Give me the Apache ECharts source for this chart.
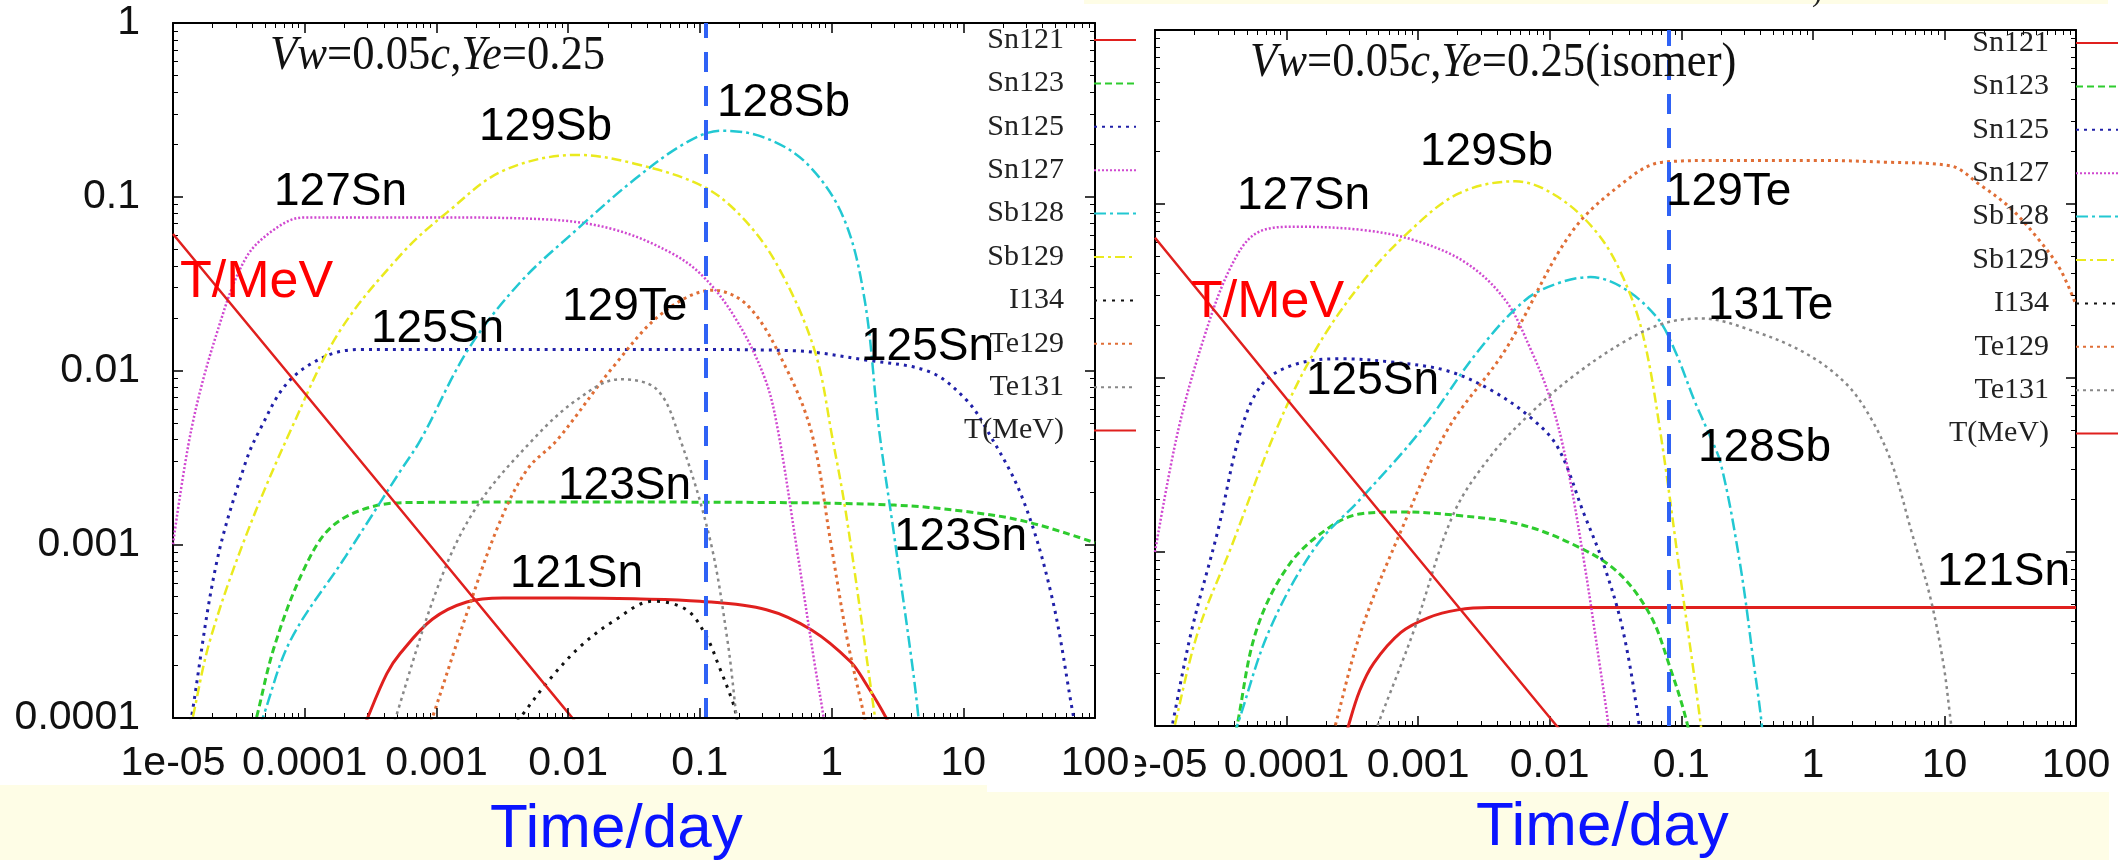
<!DOCTYPE html>
<html><head><meta charset="utf-8">
<script src="https://cdn.jsdelivr.net/npm/echarts@6.0.0/dist/echarts.min.js"></script>
<style>html,body{margin:0;padding:0;background:#fff;}#c{width:2125px;height:860px;}</style>
</head><body><div id="c"></div>
<script>
// ---- tick labels & names ----
const xTickLabels = ['1e-05','0.0001','0.001','0.01','0.1','1','10','100'];
const yTickLabels = ['0.0001','0.001','0.01','0.1','1'];
const seriesNames = ['Sn121','Sn123','Sn125','Sn127','Sb128','Sb129','I134','Te129','Te131','T(MeV)'];

// ---- left panel: Vw=0.05c, Ye=0.25   [time/day, abundance] ----
const leftSn121 = [[2.1e-4,5e-5],[3.0e-4,1e-4],[4.2e-4,1.8e-4],[5.3e-4,2.35e-4],[9.3e-4,3.7e-4],[1.7e-3,4.65e-4],[3.2e-3,4.9e-4],[1e-2,4.9e-4],[3.2e-2,4.85e-4],[0.1,4.7e-4],[0.32,4.2e-4],[0.71,3.2e-4],[1.4,2.1e-4],[1.8,1.6e-4],[2.6,1.0e-4],[3.2,7e-5]];
const leftSn123 = [[3.4e-5,5e-5],[4.3e-5,1e-4],[5.9e-5,2.6e-4],[9.8e-5,7.1e-4],[1.6e-4,1.26e-3],[3.4e-4,1.66e-3],[7e-4,1.74e-3],[1e-2,1.75e-3],[0.3,1.74e-3],[3,1.68e-3],[10,1.55e-3],[30,1.35e-3],[100,1.02e-3]];
const leftSn125 = [[1.2e-5,5e-5],[1.38e-5,1e-4],[2.14e-5,7.8e-4],[3.55e-5,2.95e-3],[4.57e-5,4.57e-3],[7.4e-5,8.5e-3],[1.41e-4,1.2e-2],[2.6e-4,1.32e-2],[1e-3,1.32e-2],[1e-2,1.32e-2],[0.1,1.32e-2],[0.51,1.3e-2],[1.8,1.15e-2],[5.6,9.8e-3],[10.5,6.8e-3],[15,4.6e-3],[28,1.86e-3],[47,5.0e-4],[69,1e-4],[88,4e-5]];
const leftSn127 = [[1e-5,1e-3],[1.38e-5,4.6e-3],[2.14e-5,1.62e-2],[3.55e-5,4.4e-2],[5.9e-5,6.5e-2],[9.8e-5,7.6e-2],[3e-4,7.6e-2],[1e-3,7.6e-2],[7e-3,7.4e-2],[2.2e-2,6.5e-2],[5.9e-2,4.8e-2],[0.105,3.5e-2],[0.186,2.0e-2],[0.31,9.1e-3],[0.39,4.6e-3],[0.55,9e-4],[0.74,2.1e-4],[0.87,1e-4],[1.0,4e-5]];
const leftSb128 = [[3.5e-5,5e-5],[4.8e-5,1e-4],[7.8e-5,2.8e-4],[2e-4,8.3e-4],[5.2e-4,2.57e-3],[7.6e-4,4e-3],[1.74e-3,1.32e-2],[4.3e-3,3.2e-2],[1.17e-2,6.5e-2],[3.2e-2,0.126],[7.8e-2,0.204],[0.145,0.24],[0.31,0.219],[0.65,0.155],[1.23,7.6e-2],[1.78,2.57e-2],[2.29,4.6e-3],[2.95,1.2e-3],[4.07,2.1e-4],[4.57,1e-4],[5.0,4.5e-5]];
const leftSb129 = [[1.12e-5,4.5e-5],[1.41e-5,1e-4],[1.91e-5,2.8e-4],[3.55e-5,1.1e-3],[7.9e-5,4.6e-3],[1.82e-4,1.66e-2],[5.6e-4,4.8e-2],[1.2e-3,8.1e-2],[3.2e-3,0.141],[1.17e-2,0.174],[3.2e-2,0.155],[0.105,0.115],[0.21,7.6e-2],[0.39,4.0e-2],[0.74,1.32e-2],[1.02,4.0e-3],[1.31,1.38e-3],[2.14,1e-4],[2.5,4.5e-5]];
const leftI134  = [[2.5e-3,6e-5],[4.3e-3,1e-4],[7.2e-3,1.66e-4],[1.23e-2,2.57e-4],[2.2e-2,3.6e-4],[4.4e-2,4.7e-4],[7.9e-2,4.2e-4],[0.112,2.95e-4],[0.141,1.95e-4],[0.178,1.23e-4],[0.19,1e-4],[0.21,5e-5]];
const leftTe129 = [[7.1e-4,5.6e-5],[9.3e-4,1e-4],[1.7e-3,4.0e-4],[3.0e-3,1.32e-3],[4.9e-3,2.7e-3],[8.3e-3,4.0e-3],[2.2e-2,1.05e-2],[5.2e-2,2.14e-2],[0.126,2.9e-2],[0.234,2.34e-2],[0.447,1.05e-2],[0.71,4.3e-3],[0.98,1.05e-3],[1.32,2.8e-4],[1.78,1e-4],[2.0,6.3e-5]];
const leftTe131 = [[4e-4,5.6e-5],[4.9e-4,1e-4],[1.07e-3,6.2e-4],[2.04e-3,1.66e-3],[5.4e-3,4.0e-3],[1.17e-2,6.8e-3],[2.45e-2,8.9e-3],[4.7e-2,7.8e-3],[7.1e-2,4.0e-3],[0.12,1.05e-3],[0.162,2.8e-4],[0.19,1e-4],[0.204,6.3e-5]];
const leftT     = [[1e-5,6.1e-2],[1e-4,7.4e-3],[1e-3,8.9e-4],[1e-2,1.07e-4],[0.1,1.3e-5]];
const leftMarkerTime = 0.106;

// ---- right panel: Vw=0.05c, Ye=0.25 (isomer) ----
const rightSn121 = [[2.3e-4,5e-5],[2.95e-4,1e-4],[3.6e-4,1.6e-4],[4.6e-4,2.3e-4],[7.4e-4,3.45e-4],[1.2e-3,4.2e-4],[2.0e-3,4.65e-4],[3.5e-3,4.8e-4],[1,4.8e-4],[100,4.8e-4]];
const rightSn123 = [[3.4e-5,4.5e-5],[4.2e-5,1e-4],[5.9e-5,3.55e-4],[1.05e-4,8.5e-4],[2.1e-4,1.38e-3],[3.7e-4,1.66e-3],[7.4e-4,1.7e-3],[2.04e-3,1.62e-3],[5.75e-3,1.45e-3],[1.45e-2,1.12e-3],[3.2e-2,7.8e-4],[5.75e-2,4.4e-4],[8.1e-2,2.24e-4],[0.112,1e-4],[0.13,5e-5]];
const rightSn125 = [[1.1e-5,4.5e-5],[1.35e-5,1e-4],[1.9e-5,3.55e-4],[3.0e-5,1.32e-3],[4.5e-5,5.0e-3],[6.6e-5,9.3e-3],[1.17e-4,1.2e-2],[2.6e-4,1.29e-2],[6.6e-4,1.23e-2],[1.66e-3,1.1e-2],[3.6e-3,8.5e-3],[7.2e-3,5.9e-3],[1.15e-2,4.0e-3],[1.82e-2,1.66e-3],[2.57e-2,8.5e-4],[3.6e-2,3.55e-4],[4.8e-2,1e-4],[5.3e-2,5e-5]];
const rightSn127 = [[1e-5,1e-3],[1.5e-5,5.0e-3],[2.4e-5,1.78e-2],[3.8e-5,4.4e-2],[5.9e-5,6.8e-2],[1.17e-4,7.4e-2],[3.7e-4,7.1e-2],[9.3e-4,6.2e-2],[2.3e-3,4.6e-2],[4.6e-3,2.8e-2],[7.2e-3,1.45e-2],[1.02e-2,7.4e-3],[1.35e-2,3.2e-3],[1.82e-2,8.9e-4],[2.4e-2,2.24e-4],[2.8e-2,1e-4],[3.1e-2,5e-5]];
const rightSb128 = [[3.0e-5,5e-5],[4.2e-5,1e-4],[7.4e-5,3.55e-4],[1.66e-4,1.07e-3],[3.7e-4,2.04e-3],[1.05e-3,5.0e-3],[2.9e-3,1.45e-2],[6.5e-3,2.8e-2],[1.15e-2,3.5e-2],[2.04e-2,3.8e-2],[3.6e-2,3.3e-2],[6.5e-2,2.24e-2],[8.9e-2,1.45e-2],[0.126,7.4e-3],[0.158,5.0e-3],[0.2,3.2e-3],[0.28,8.5e-4],[0.355,2.3e-4],[0.41,1e-4],[0.44,5e-5]];
const rightSb129 = [[1.12e-5,4.5e-5],[1.41e-5,1e-4],[2.14e-5,3.55e-4],[3.8e-5,1.07e-3],[8.3e-5,5.0e-3],[1.66e-4,1.45e-2],[3.7e-4,3.5e-2],[8.3e-4,6.8e-2],[2.04e-3,0.115],[5.5e-3,0.135],[1.15e-2,0.11],[2.3e-2,6.8e-2],[3.6e-2,3.8e-2],[5.1e-2,1.78e-2],[6.9e-2,5.0e-3],[0.1,6.6e-4],[0.141,1e-4],[0.155,5e-5]];
const rightI134  = [];
const rightTe129 = [[1.78e-4,4.5e-5],[2.34e-4,1e-4],[3.7e-4,3.55e-4],[7.4e-4,1.32e-3],[1.66e-3,5.0e-3],[4.6e-3,1.45e-2],[1.45e-2,6.8e-2],[3.6e-2,0.132],[7.2e-2,0.174],[0.2,0.178],[1.12,0.178],[3.5,0.174],[11,0.166],[18.6,0.129],[31.6,9.5e-2],[52.5,6.2e-2],[76,4.2e-2],[100,2.63e-2]];
const rightTe131 = [[3.5e-4,5e-5],[4.9e-4,1e-4],[9.3e-4,3.55e-4],[1.86e-3,1.66e-3],[3.6e-3,3.6e-3],[7.2e-3,6.3e-3],[1.45e-2,1.0e-2],[3.6e-2,1.6e-2],[7.2e-2,2.05e-2],[0.141,2.2e-2],[0.355,1.86e-2],[0.89,1.38e-2],[1.78,9.3e-3],[2.75,5.9e-3],[4.0,3.2e-3],[5.6,1.32e-3],[7.8,5.5e-4],[9.8,2.3e-4],[11,1.17e-4],[12.6,5e-5]];
const rightT     = [[1e-5,6.4e-2],[1e-4,7.6e-3],[1e-3,9.2e-4],[1e-2,1.12e-4],[0.1,1.36e-5]];
const rightMarkerTime = 0.081;

// ---- styles ----
const styles = {
  'Sn121':  {color:'#e0201e', width:3,   type:'solid'},
  'Sn123':  {color:'#2ecc2e', width:3,   type:[7,4]},
  'Sn125':  {color:'#2020a8', width:3,   type:[3,5]},
  'Sn127':  {color:'#d048d0', width:2.5, type:[2,2]},
  'Sb128':  {color:'#22c8d2', width:2.5, type:[12,4,3,4]},
  'Sb129':  {color:'#eaea1e', width:2.5, type:[10,4,3,4]},
  'I134':   {color:'#111111', width:3,   type:[3,6]},
  'Te129':  {color:'#e06e36', width:3,   type:[3,4]},
  'Te131':  {color:'#888888', width:2.5, type:[3,4]},
  'T(MeV)': {color:'#e0201e', width:2.5, type:'solid'}
};
const SANS = 'Liberation Sans', SERIF = 'Liberation Serif';

function mk(name, data, gi, marker) {
  const s = styles[name];
  const o = {name, type:'line', xAxisIndex: gi*4, yAxisIndex: gi*4, data,
    symbol:'none', showSymbol:false, smooth: name === 'T(MeV)' ? false : 0.35, clip:true,
    lineStyle:{color:s.color, width:s.width, type:s.type}, itemStyle:{color:s.color},
    emphasis:{disabled:true}, z:3};
  if (marker != null) {
    o.markLine = {silent:true, symbol:['none','none'], label:{show:false},
      lineStyle:{color:'#2f62f5', width:4, type:[20,14]}, data:[{xAxis: marker}]};
  }
  return o;
}

const minorX = []; for (let d=-5; d<2; d++) for (let k=2; k<=9; k++) minorX.push(d+Math.log10(k));
const minorY = []; for (let d=-4; d<0; d++) for (let k=2; k<=9; k++) minorY.push(d+Math.log10(k));

function xLog(gi, position, showLabel, margin, z) {
  return {type:'log', gridIndex:gi, position, min:1e-5, max:100, logBase:10, splitNumber:7, z,
    axisLine:{show:true, onZero:false, lineStyle:{color:'#000', width:2}},
    axisTick:{show:true, inside:true, length:10, lineStyle:{color:'#000', width:1.5}},
    axisLabel:{show:showLabel, margin, fontSize:41, fontFamily:SANS, color:'#111',
      formatter: v => xTickLabels[Math.round(Math.log10(v)) + 5]},
    splitLine:{show:false}};
}
function yLog(gi, position, showLabel) {
  return {type:'log', gridIndex:gi, position, min:1e-4, max:1, logBase:10, splitNumber:4,
    axisLine:{show:true, onZero:false, lineStyle:{color:'#000', width:2}},
    axisTick:{show:true, inside:true, length:10, lineStyle:{color:'#000', width:1.5}},
    axisLabel:{show:showLabel, margin:33, fontSize:41, fontFamily:SANS, color:'#111',
      formatter: v => yTickLabels[Math.round(Math.log10(v)) + 4]},
    splitLine:{show:false}};
}
function minorAxis(gi, position, lo, hi, vals) {
  return {type:'value', gridIndex:gi, position, min:lo, max:hi,
    axisLine:{show:false, onZero:false}, axisLabel:{show:false}, splitLine:{show:false},
    axisTick:{show:true, inside:true, length:5, customValues:vals, lineStyle:{color:'#000', width:1}}};
}

const labelText = (t, x, y, color, size) => ({type:'text', x, y, z:20,
  style:{text:t, fontSize:size || 46, fontFamily:SANS, fill:color || '#000', verticalAlign:'middle'}});
const richTitle = {
  i:{fontFamily:SERIF, fontStyle:'italic', fontSize:48, fill:'#111'},
  r:{fontFamily:SERIF, fontSize:48, fill:'#111'}
};
const legendCommon = (right, top, pad) => ({data:seriesNames, orient:'vertical', align:'right', right, top,
  itemWidth:42, itemHeight:14, itemGap:13.4, padding:0, selectedMode:false,
  itemStyle:{opacity:0, borderWidth:0},
  textStyle:{fontFamily:SERIF, fontSize:30, lineHeight:30, color:'#222', padding:[0,pad,0,0]}});

const chart = echarts.init(document.getElementById('c'), null, {renderer:'canvas'});
chart.setOption({
  animation:false,
  backgroundColor:'#ffffff',
  textStyle:{fontFamily:SANS},
  grid:[
    {left:173, top:23, width:922, height:695},
    {left:1155, top:30, width:921, height:696}
  ],
  xAxis:[
    xLog(0,'bottom',true,25,6), xLog(0,'top',false,0,0), minorAxis(0,'bottom',-5,2,minorX), minorAxis(0,'top',-5,2,minorX),
    xLog(1,'bottom',true,19,0), xLog(1,'top',false,0,0), minorAxis(1,'bottom',-5,2,minorX), minorAxis(1,'top',-5,2,minorX)
  ],
  yAxis:[
    yLog(0,'left',true), yLog(0,'right',false), minorAxis(0,'left',-4,0,minorY), minorAxis(0,'right',-4,0,minorY),
    yLog(1,'left',false), yLog(1,'right',false), minorAxis(1,'left',-4,0,minorY), minorAxis(1,'right',-4,0,minorY)
  ],
  legend:[ legendCommon(988, 25, 25), legendCommon(6, 28, 22) ],
  series:[
    mk('Sn121', leftSn121, 0), mk('Sn123', leftSn123, 0), mk('Sn125', leftSn125, 0), mk('Sn127', leftSn127, 0),
    mk('Sb128', leftSb128, 0), mk('Sb129', leftSb129, 0), mk('I134', leftI134, 0), mk('Te129', leftTe129, 0),
    mk('Te131', leftTe131, 0), mk('T(MeV)', leftT, 0, leftMarkerTime),
    mk('Sn121', rightSn121, 1), mk('Sn123', rightSn123, 1), mk('Sn125', rightSn125, 1), mk('Sn127', rightSn127, 1),
    mk('Sb128', rightSb128, 1), mk('Sb129', rightSb129, 1), mk('I134', rightI134, 1), mk('Te129', rightTe129, 1),
    mk('Te131', rightTe131, 1), mk('T(MeV)', rightT, 1, rightMarkerTime)
  ],
  graphic:[
    {type:'rect', shape:{x:0, y:785, width:987, height:75}, style:{fill:'#fefde6'}, z:0},
    {type:'rect', shape:{x:987, y:792, width:1122, height:68}, style:{fill:'#fefde6'}, z:0},
    {type:'rect', shape:{x:1084, y:0, width:1024, height:4}, style:{fill:'#fefde6'}, z:0},
    {type:'rect', shape:{x:1096, y:732, width:39, height:53}, style:{fill:'#ffffff'}, z:5},
    {type:'text', x:1812, y:-22, z:20, style:{text:')', fontSize:30, fontFamily:SERIF, fill:'#222'}},
    // titles
    {type:'text', x:270, y:56, scaleX:0.93, z:20, style:{text:'{i|Vw}{r|=0.05}{i|c}{r|,}{i|Ye}{r|=0.25}', rich:richTitle, verticalAlign:'middle'}},
    {type:'text', x:1250, y:63, scaleX:0.93, z:20, style:{text:'{i|Vw}{r|=0.05}{i|c}{r|,}{i|Ye}{r|=0.25(isomer)}', rich:richTitle, verticalAlign:'middle'}},
    // left annotations
    labelText('128Sb', 717, 103.5), labelText('129Sb', 479, 127), labelText('127Sn', 274, 192),
    labelText('T/MeV', 180, 283, '#ff0000', 52), labelText('129Te', 562, 307), labelText('125Sn', 371, 329.5),
    labelText('125Sn', 861, 347.5), labelText('123Sn', 558, 486.5), labelText('123Sn', 894, 537.5),
    labelText('121Sn', 510, 574.5),
    // right annotations
    labelText('129Sb', 1420, 152), labelText('127Sn', 1237, 196.5), labelText('129Te', 1666, 192),
    labelText('T/MeV', 1191, 303, '#ff0000', 52), labelText('131Te', 1708, 306), labelText('125Sn', 1306, 381.5),
    labelText('128Sb', 1698, 448.5), labelText('121Sn', 1937, 572),
    // axis titles
    labelText('Time/day', 490, 830, '#0a14ff', 62), labelText('Time/day', 1476, 828, '#0a14ff', 62)
  ]
});
</script></body></html>
